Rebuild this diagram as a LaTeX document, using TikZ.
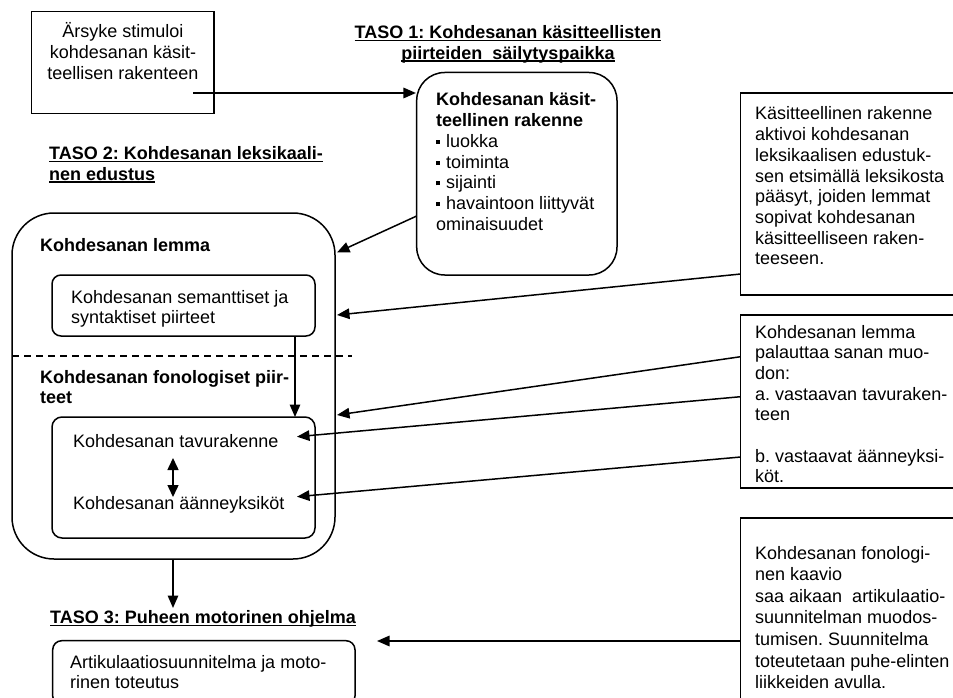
\documentclass[tikz,border=0pt]{standalone}
\usepackage{fontspec}
\setmainfont{Liberation Sans}
\usetikzlibrary{arrows.meta}
\frenchspacing

% text blocks whose baseline is the baseline of their first line
\newcommand\LeftLines[1]{\begin{tabular}[t]{@{}l@{}}#1\end{tabular}}
\newcommand\MidLines[1]{\begin{tabular}[t]{@{}c@{}}#1\end{tabular}}
% bold underlined heading line
\newcommand\HeadLine[1]{\setbox0=\hbox{\bfseries #1}\rlap{\rule[-2.5pt]{\wd0}{1.3pt}}\box0}
% small square bullet
\newcommand\Bul{\rule[3.4pt]{4pt}{4pt}\hspace{6pt}}

\tikzset{
  txt/.style={anchor=base west, inner sep=0pt, font=\fontsize{18pt}{20.7pt}\selectfont},
  mid/.style={txt, anchor=base},
  frame/.style={draw, line width=1.5pt, inner sep=0pt},
  sqbox/.style={frame, rectangle},
  rbox/.style={frame, rectangle, rounded corners=#1},
  link/.style={line width=1.5pt},
  arr/.style={link, -{Triangle[length=12.5pt,width=10.5pt]}},
  darr/.style={link, {Triangle[length=12pt,width=11pt]}-{Triangle[length=12pt,width=11pt]}},
}

\begin{document}
\begin{tikzpicture}[x=1pt, y=-1pt]
\useasboundingbox (0,0) rectangle (953,698);
\clip (0,0) rectangle (953,698);

% ---- boxes ----
\node[sqbox, minimum width=182.3pt, minimum height=101.6pt] (stim) at (122.85,62.5) {};
\node[rbox=28pt, minimum width=200.3pt, minimum height=202.5pt] (concept) at (516.85,173.75) {};
\node[rbox=42pt, minimum width=323pt, minimum height=346pt] (lex) at (173.5,386) {};
\node[rbox=9pt, minimum width=263pt, minimum height=61pt] (sem) at (183.5,305.5) {};
\node[rbox=10pt, minimum width=263pt, minimum height=121pt] (phon) at (183.5,477.5) {};
\node[rbox=9pt, minimum width=302.3pt, minimum height=64.3pt] (motor) at (203.85,672.85) {};
\node[sqbox, minimum width=219.3pt, minimum height=202pt] (noteA) at (850.35,194) {};
\node[sqbox, minimum width=219.3pt, minimum height=173pt] (noteB) at (850.35,401.5) {};
\node[sqbox, minimum width=219.3pt, minimum height=202pt] (noteC) at (850.35,619) {};

% ---- texts ----
\node[mid] (stimtxt) at (123,38) {\MidLines{Ärsyke stimuloi\\ kohdesanan käsit-\\ teellisen rakenteen}};
\node[mid] (head1) at (508,38.5) {\MidLines{\HeadLine{TASO 1: Kohdesanan käsitteellisten}\\ \HeadLine{piirteiden\ \ säilytyspaikka}}};
\node[txt] (concepttxt) at (436,106) {\LeftLines{\bfseries Kohdesanan käsit-\\ \bfseries teellinen rakenne\\
  \Bul luokka\\ \Bul toiminta\\ \Bul sijainti\\ \Bul havaintoon liittyvät\\ ominaisuudet}};
\node[txt] (head2) at (49,159.5) {\LeftLines{\HeadLine{TASO 2: Kohdesanan leksikaali-}\\ \HeadLine{nen edustus}}};
\node[txt, font=\fontsize{18pt}{20.7pt}\selectfont\bfseries] (lemma) at (40,251) {Kohdesanan lemma};
\node[txt] (semtxt) at (71,303) {\LeftLines{Kohdesanan semanttiset ja\\ syntaktiset piirteet}};
\node[txt] (phontxt) at (40,383) {\LeftLines{\bfseries Kohdesanan fonologiset piir-\\ \bfseries teet}};
\node[txt] (syll) at (73,447) {Kohdesanan tavurakenne};
\node[txt] (phones) at (73,509) {Kohdesanan äänneyksiköt};
\node[txt] (head3) at (50,623.5) {\HeadLine{TASO 3: Puheen motorinen ohjelma}};
\node[txt] (motortxt) at (70,668) {\LeftLines{Artikulaatiosuunnitelma ja moto-\\ rinen toteutus}};
\node[txt] (noteAtxt) at (755,120) {\LeftLines{Käsitteellinen rakenne\\ aktivoi kohdesanan\\ leksikaalisen edustuk-\\
  sen etsimällä leksikosta\\ pääsyt, joiden lemmat\\ sopivat kohdesanan\\ käsitteelliseen raken-\\ teeseen.}};
\node[txt] (noteBtxt) at (755,338) {\LeftLines{Kohdesanan lemma\\ palauttaa sanan muo-\\ don:\\
  a. vastaavan tavuraken-\\ teen\\ \\ b. vastaavat äänneyksi-\\ köt.}};
\node[txt, font=\fontsize{18pt}{21.6pt}\selectfont] (noteCtxt) at (755,559) {\LeftLines{Kohdesanan fonologi-\\ nen kaavio\\
  saa aikaan\ \ artikulaatio-\\ suunnitelman muodos-\\ tumisen. Suunnitelma\\ toteutetaan puhe-elinten\\ liikkeiden avulla.}};

% ---- connector end points ----
\coordinate (stimOut) at (193.3,93);
\coordinate (conceptIn) at (concept.west |- stimOut);
\coordinate (conceptOut) at (416.7,216);
\coordinate (lexInA) at (337,252.5);
\coordinate (noteAOut) at (740.7,274);
\coordinate (lexInB) at (337,315);
\coordinate (noteBOutA) at (740.7,356.7);
\coordinate (lexInC) at (337,415);
\coordinate (noteBOutB) at (740.7,396.7);
\coordinate (syllIn) at (297,436.7);
\coordinate (noteBOutC) at (740.7,457);
\coordinate (phonesIn) at (297,496.7);
\coordinate (noteCOut) at (740.7,641);
\coordinate (motorIn) at (377,641);
\coordinate (semOut) at (295,336);
\coordinate (phonIn) at (295,417);
\coordinate (syllArrow) at (173,458);
\coordinate (phonesArrow) at (173,497);
\coordinate (lexOut) at (173,559);
\coordinate (head3In) at (173,608);
\coordinate (splitL) at (12,356);
\coordinate (splitR) at (352,356);

% ---- connectors ----
\draw[arr] (stimOut) -- (conceptIn);
\draw[arr] (conceptOut) -- (lexInA);
\draw[arr] (noteAOut) -- (lexInB);
\draw[arr] (noteBOutA) -- (lexInC);
\draw[arr] (noteBOutB) -- (syllIn);
\draw[arr] (noteBOutC) -- (phonesIn);
\draw[arr] (noteCOut) -- (motorIn);
\draw[arr] (semOut) -- (phonIn);
\draw[darr] (syllArrow) -- (phonesArrow);
\draw[arr] (lexOut) -- (head3In);
\draw[link, line width=1.2pt, dash pattern=on 7pt off 5pt] (splitL) -- (splitR);
\end{tikzpicture}
\end{document}
